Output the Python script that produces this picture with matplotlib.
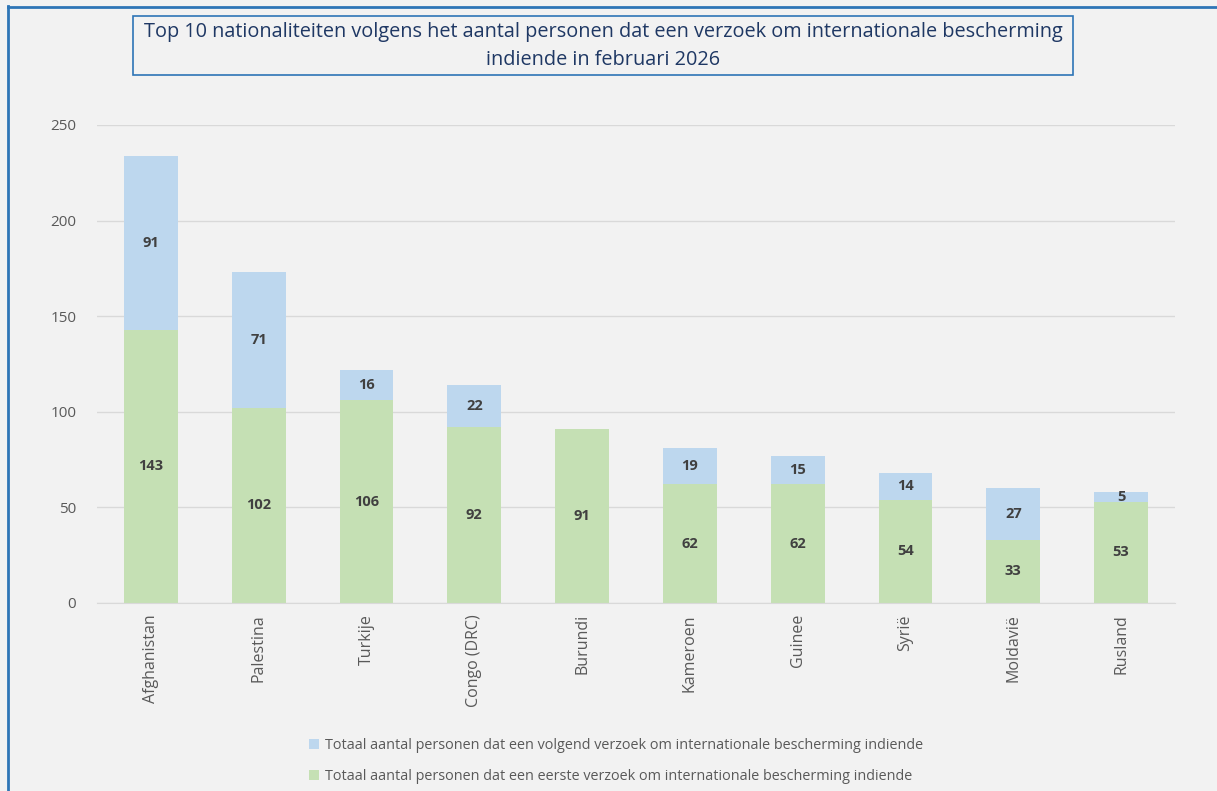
import numpy as np
import matplotlib.pyplot as plt
from matplotlib.patches import Rectangle
from matplotlib.lines import Line2D

plt.rcParams['font.family'] = ['Open Sans', 'DejaVu Sans']

# data
landen = ["Afghanistan", "Palestina", "Turkije", "Congo (DRC)", "Burundi",
          "Kameroen", "Guinee", "Syrië", "Moldavië", "Rusland"]
eerste = [143, 102, 106, 92, 91, 62, 62, 54, 33, 53]
volgend = [91, 71, 16, 22, 0, 19, 15, 14, 27, 5]

lbl_volgend = "Totaal aantal personen dat een volgend verzoek om internationale bescherming indiende"
lbl_eerste = "Totaal aantal personen dat een eerste verzoek om internationale bescherming indiende"
titel = ("Top 10 nationaliteiten volgens het aantal personen dat een verzoek om internationale bescherming\n"
         "indiende in februari 2026")

bg = "#f2f2f2"
c_green = "#c5e0b4"
c_blue = "#bdd7ee"
c_txt = "#595959"

W, H = 1217, 791
fig = plt.figure(figsize=(W / 100, H / 100), dpi=100, facecolor=bg)
ax = fig.add_axes([97 / W, 1 - 603 / H, (1175 - 97) / W, (603 - 125) / H])
ax.set_facecolor(bg)

x = np.arange(len(landen))
b1 = ax.bar(x, eerste, width=0.5, color=c_green, label=lbl_eerste, zorder=2)
b2 = ax.bar(x, volgend, width=0.5, bottom=eerste, color=c_blue, label=lbl_volgend, zorder=2)

# data labels
for i in range(len(landen)):
    ax.text(x[i], eerste[i] / 2, str(eerste[i]), ha="center", va="center",
            fontsize=10.5, fontweight="bold", color="#404040", zorder=3)
    if volgend[i] > 0:
        ax.text(x[i], eerste[i] + volgend[i] / 2, str(volgend[i]), ha="center", va="center",
                fontsize=10.5, fontweight="bold", color="#404040", zorder=3)

ax.set_xlim(-0.5, len(landen) - 0.5)
ax.set_ylim(0, 250)
ax.set_yticks(range(0, 251, 50))
ax.set_xticks(x)
ax.set_xticklabels(landen, rotation=90, fontsize=11.5)
ax.tick_params(axis="both", length=0, labelsize=11, colors=c_txt)
ax.tick_params(axis="x", labelsize=11.5, pad=8)
ax.tick_params(axis="y", pad=15)
ax.grid(axis="y", color="#d9d9d9", linewidth=1, zorder=0)
for s in ["top", "right", "left"]:
    ax.spines[s].set_visible(False)
ax.spines["bottom"].set_color("#d9d9d9")

# title box
fig.add_artist(Rectangle((133 / W, 1 - 75 / H), (1073 - 133) / W, (75 - 16) / H,
                         transform=fig.transFigure, facecolor="none",
                         edgecolor="#2e75b6", linewidth=1.2))
fig.text(603 / W, 1 - 46 / H, titel, ha="center", va="center", fontsize=14.3,
         color="#1f3864", linespacing=1.5)

# outer border (left and top)
fig.add_artist(Line2D([7.5 / W, 7.5 / W], [0, 1 - 6 / H], transform=fig.transFigure,
                      color="#2e75b6", linewidth=2))
fig.add_artist(Line2D([7.5 / W, 1], [1 - 6.5 / H, 1 - 6.5 / H], transform=fig.transFigure,
                      color="#2e75b6", linewidth=2))

leg = fig.legend(handles=[b2, b1], loc="center", bbox_to_anchor=(616 / W, 1 - 761 / H),
                 ncol=1, frameon=False, fontsize=10.4, handlelength=0.7, handleheight=0.7,
                 handletextpad=0.4, labelspacing=1.1, labelcolor=c_txt)

plt.savefig("out.png", dpi=100, facecolor=bg)
